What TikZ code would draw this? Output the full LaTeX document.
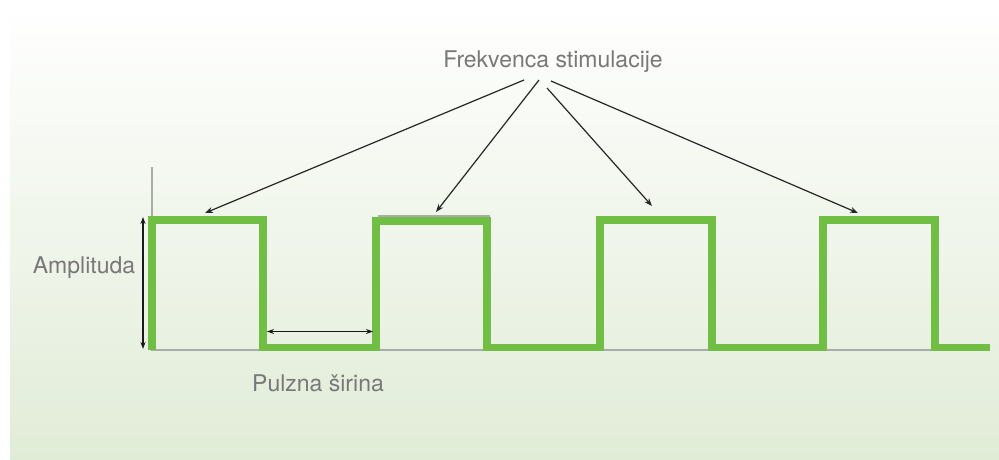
\documentclass[tikz,border=0pt]{standalone}
\usepackage{fontspec}
\setmainfont{TeX Gyre Heros}
\usetikzlibrary{arrows.meta}
\definecolor{wave}{RGB}{112,190,68}
\definecolor{bgbot}{RGB}{225,236,215}
\definecolor{txt}{RGB}{120,120,120}
\definecolor{axisgrey}{RGB}{170,172,168}
\begin{document}
\begin{tikzpicture}[x=1pt,y=-1pt,
  lbl/.style={text=txt,font=\fontsize{23}{27}\selectfont,inner sep=0pt,anchor=base},
  pointer/.style={draw=black!85,line width=1.2pt,-{Stealth[length=8pt,width=6pt]}},
  measure/.style={draw=black!90,line width=1.3pt,{Stealth[length=7pt,width=5pt]}-{Stealth[length=7pt,width=5pt]}},
  wavestyle/.style={draw=wave,line width=7.5pt,line join=miter,line cap=butt},
  axisline/.style={draw=axisgrey,line width=1.6pt}]
\useasboundingbox (0,0) rectangle (999,459);
\fill[white] (0,0) rectangle (999,459);
\shade[top color=white,bottom color=bgbot] (10,6) rectangle (999,459);
% axes
\coordinate (ax0) at (152,167);
\coordinate (axo) at (152,350);
\coordinate (axe) at (936,350);
\draw[axisline] (ax0) -- (axo) -- (axe);
% grey shadow of waveform
\draw[draw=axisgrey,line width=1.2pt] (378,216) -- (489,216) -- (489,345);
\draw[draw=axisgrey,line width=1.2pt] (938,222) -- (938,345);
% waveform
\draw[wavestyle] (152,350) -- (152,220) -- (263,220) -- (263,347.5) -- (376,347.5) -- (376,221) -- (487,221) -- (487,347.5)
  -- (600,347.5) -- (600,220) -- (712,220) -- (712,347.5) -- (823,347.5) -- (823,220) -- (935,220) -- (935,347.5) -- (990,347.5);
% labels
\node[lbl] (freq) at (553,67) {Frekvenca stimulacije};
\node[lbl] (amp) at (84,273) {Amplituda};
\node[lbl] (pw) at (318,391) {Pulzna širina};
% pointers
\coordinate (s1) at (524,80);
\coordinate (s2) at (539,80);
\coordinate (s3) at (547,88);
\coordinate (s4) at (551,81);
\coordinate (t1) at (205,213);
\coordinate (t2) at (436,212);
\coordinate (t3) at (652,206);
\coordinate (t4) at (858,213);
\draw[pointer] (s1) -- (t1);
\draw[pointer] (s2) -- (t2);
\draw[pointer] (s3) -- (t3);
\draw[pointer] (s4) -- (t4);
% measures
\coordinate (a1) at (143,217);
\coordinate (a2) at (143,349);
\draw[measure] (a1) -- (a2);
\coordinate (w1) at (267,331.5);
\coordinate (w2) at (373,331.5);
\draw[measure] (w1) -- (w2);
\end{tikzpicture}
\end{document}
